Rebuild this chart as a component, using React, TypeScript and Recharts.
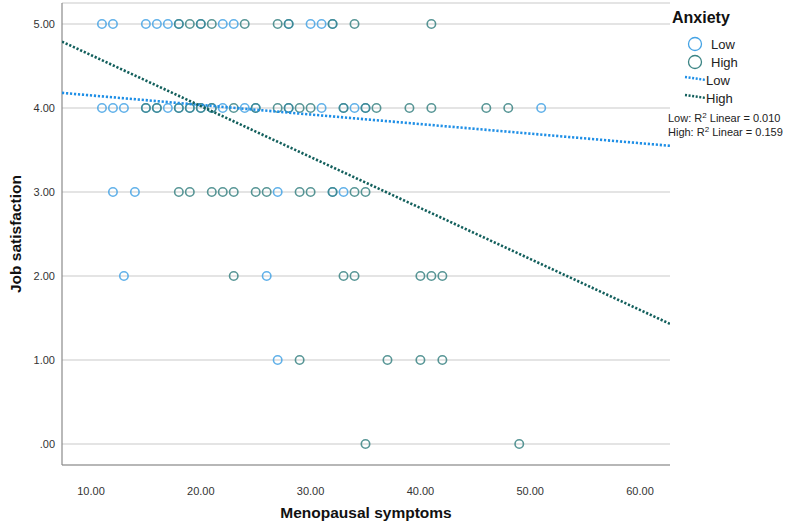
import { CartesianGrid, Scatter, ScatterChart, XAxis, YAxis } from 'recharts';

// Anxiety = Low
const lowSymptoms = [
  11, 12, 15, 16, 17, 18, 20, 22, 23, 28, 30, 31, 32,
  11, 12, 13, 15, 16, 17, 18, 19, 20, 21, 22, 24, 25, 28, 31, 33, 34, 35, 51,
  12, 14, 27, 32, 33,
  13, 26,
  27,
];
const lowSatisfaction = [
  5, 5, 5, 5, 5, 5, 5, 5, 5, 5, 5, 5, 5,
  4, 4, 4, 4, 4, 4, 4, 4, 4, 4, 4, 4, 4, 4, 4, 4, 4, 4, 4,
  3, 3, 3, 3, 3,
  2, 2,
  1,
];

// Anxiety = High
const highSymptoms = [
  18, 19, 20, 21, 24, 27, 28, 32, 34, 41,
  15, 16, 18, 19, 20, 21, 23, 25, 27, 28, 29, 30, 33, 35, 36, 39, 41, 46, 48,
  18, 19, 21, 22, 23, 25, 26, 29, 30, 32, 34, 35,
  23, 33, 34, 40, 41, 42,
  29, 37, 40, 42,
  35, 49,
];
const highSatisfaction = [
  5, 5, 5, 5, 5, 5, 5, 5, 5, 5,
  4, 4, 4, 4, 4, 4, 4, 4, 4, 4, 4, 4, 4, 4, 4, 4, 4, 4, 4,
  3, 3, 3, 3, 3, 3, 3, 3, 3, 3, 3, 3,
  2, 2, 2, 2, 2, 2,
  1, 1, 1, 1,
  0, 0,
];

// fit line end points (at the axis limits)
const lowFitX = [7.36, 62.73];
const lowFitY = [4.18, 3.55];
const highFitX = [7.36, 62.73];
const highFitY = [4.79, 1.43];

const xTicks = [10, 20, 30, 40, 50, 60];
const yTicks = [0, 1, 2, 3, 4, 5];
const lowR2 = '0.010';
const highR2 = '0.159';

const LOW = '#45a3e5';
const HIGH = '#3b8484';
const LOW_LINE = '#1f8fe6';
const HIGH_LINE = '#125f5c';
const FONT = '"Liberation Sans", Arial, sans-serif';

const toPoints = (xs: number[], ys: number[]) => xs.map((x, i) => ({ x, y: ys[i] }));

const ring = (color: string) => (props: any) => (
  <circle cx={props.cx} cy={props.cy} r={4.2} fill="none" stroke={color} strokeWidth={1.6} strokeOpacity={0.85} />
);

const noDot = () => <g />;

function AnxietyLegend() {
  return (
    <svg width={128} height={140} style={{ fontFamily: FONT, display: 'block' }}>
      <text x={4} y={23} fontSize={16} fontWeight="bold" fill="#111">Anxiety</text>
      <circle cx={27} cy={44} r={6.5} fill="none" stroke={LOW} strokeWidth={1.3} />
      <text x={43} y={49} fontSize={13} fill="#222">Low</text>
      <circle cx={27} cy={62} r={6.5} fill="none" stroke={HIGH} strokeWidth={1.3} />
      <text x={43} y={67} fontSize={13} fill="#222">High</text>
      <line x1={17} y1={77} x2={38} y2={80} stroke={LOW_LINE} strokeWidth={2.4} strokeDasharray="2 1.6" />
      <text x={38} y={85} fontSize={13} fill="#222">Low</text>
      <line x1={17} y1={95} x2={38} y2={98} stroke={HIGH_LINE} strokeWidth={2.4} strokeDasharray="2 1.6" />
      <text x={38} y={103} fontSize={13} fill="#222">High</text>
      <text x={0} y={122} fontSize={11} fill="#222">
        Low: R<tspan dy={-4} fontSize={8}>2</tspan><tspan dy={4}> Linear = {lowR2}</tspan>
      </text>
      <text x={0} y={136} fontSize={11} fill="#222">
        High: R<tspan dy={-4} fontSize={8}>2</tspan><tspan dy={4}> Linear = {highR2}</tspan>
      </text>
    </svg>
  );
}

export default function App() {
  const tickStyle = { fontSize: 11, fill: '#333', fontFamily: FONT };
  return (
    <div style={{ position: 'absolute', left: 0, top: 0, width: 796, height: 524, fontFamily: FONT, background: '#fff' }}>
      <ScatterChart width={796} height={524} margin={{ top: 3, right: 126, bottom: 0, left: 2 }}>
        <CartesianGrid horizontal vertical={false} stroke="#c9c9c9" strokeWidth={1.2} />
        <XAxis
          type="number"
          dataKey="x"
          domain={[7.36, 62.73]}
          ticks={xTicks}
          allowDataOverflow
          height={59}
          tickLine={false}
          tickSize={0}
          tickMargin={22}
          tickFormatter={(v: number) => v.toFixed(2)}
          tick={tickStyle}
          axisLine={{ stroke: '#8a8a8a', strokeWidth: 1.2 }}
          label={{ value: 'Menopausal symptoms', position: 'insideBottom', offset: 6, style: { fontSize: 15.5, fontWeight: 'bold', fill: '#111', fontFamily: FONT } }}
        />
        <YAxis
          type="number"
          dataKey="y"
          domain={[-0.25, 5.25]}
          ticks={yTicks}
          allowDataOverflow
          width={60}
          tickLine={false}
          tickSize={0}
          tickMargin={7}
          tickFormatter={(v: number) => (v === 0 ? '.00' : v.toFixed(2))}
          tick={tickStyle}
          axisLine={{ stroke: '#8a8a8a', strokeWidth: 1.2 }}
          label={{ value: 'Job satisfaction', angle: -90, position: 'center', dx: -17, style: { fontSize: 15.5, fontWeight: 'bold', fill: '#111', fontFamily: FONT } }}
        />
        <Scatter name="Low" data={toPoints(lowSymptoms, lowSatisfaction)} shape={ring(LOW)} isAnimationActive={false} />
        <Scatter name="High" data={toPoints(highSymptoms, highSatisfaction)} shape={ring(HIGH)} isAnimationActive={false} />
        <Scatter
          name="Low fit"
          data={toPoints(lowFitX, lowFitY)}
          shape={noDot}
          line={{ stroke: LOW_LINE, strokeWidth: 2.6, strokeDasharray: '2.2 1.8' }}
          isAnimationActive={false}
        />
        <Scatter
          name="High fit"
          data={toPoints(highFitX, highFitY)}
          shape={noDot}
          line={{ stroke: HIGH_LINE, strokeWidth: 2.6, strokeDasharray: '2.2 1.8' }}
          isAnimationActive={false}
        />
      </ScatterChart>
      <div style={{ position: 'absolute', left: 668, top: 0 }}>
        <AnxietyLegend />
      </div>
    </div>
  );
}
